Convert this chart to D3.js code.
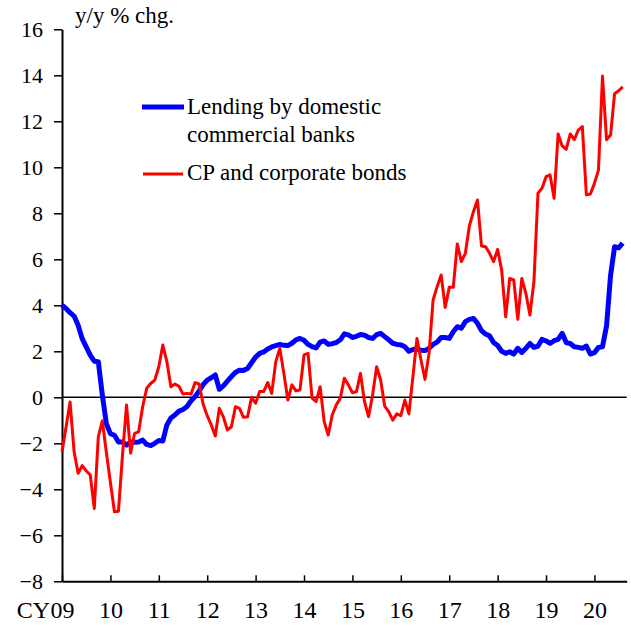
<!DOCTYPE html>
<html>
<head>
<meta charset="utf-8">
<script src="https://cdn.jsdelivr.net/npm/d3@7"></script>
<style>
  body { margin: 0; background: #fff; }
  svg text { font-family: "Liberation Serif", "Times New Roman", serif; fill: #000; }
</style>
</head>
<body>
<svg id="chart" width="631" height="626"></svg>
<script>
// monthly data, Jan 2009 onwards (y/y % chg.)
var lending = [
  4.0, 3.86, 3.68, 3.53, 3.13, 2.55, 2.19, 1.83, 1.57, 1.55,
  0.1, -1.15, -1.58, -1.65, -1.94, -1.94, -2.08, -1.94, -1.95, -1.94,
  -1.86, -2.05, -2.1, -2.0, -1.88, -1.9, -1.2, -0.9, -0.77, -0.6,
  -0.53, -0.4, -0.15, 0.03, 0.28, 0.55, 0.75, 0.85, 0.97, 0.35,
  0.5, 0.7, 0.9, 1.08, 1.18, 1.17, 1.25, 1.5, 1.75, 1.91,
  1.97, 2.1, 2.19, 2.25, 2.3, 2.26, 2.25, 2.35, 2.5, 2.56,
  2.48, 2.3, 2.2, 2.15, 2.4, 2.45, 2.3, 2.33, 2.38, 2.5,
  2.76, 2.71, 2.6, 2.65, 2.73, 2.7, 2.6, 2.56, 2.72, 2.78,
  2.64, 2.5, 2.35, 2.3, 2.28, 2.2, 2.0, 2.08, 2.1, 2.05,
  2.03, 2.13, 2.3, 2.4, 2.6, 2.6, 2.56, 2.85, 3.07, 3.0,
  3.29, 3.39, 3.43, 3.22, 2.9, 2.75, 2.67, 2.38, 2.25, 2.0,
  1.91, 1.98, 1.88, 2.13, 1.95, 2.13, 2.34, 2.17, 2.23, 2.52,
  2.45, 2.34, 2.46, 2.52, 2.78, 2.38, 2.34, 2.2, 2.17, 2.13,
  2.23, 1.88, 1.94, 2.17, 2.2, 3.1, 5.3, 6.55, 6.5, 6.7
];

var cpBonds = [
  -2.37, -1.3, -0.2, -2.37, -3.3, -2.97, -3.2, -3.37, -4.83, -1.72,
  -1.02, -2.4, -3.7, -4.98, -4.95, -2.5, -0.33, -2.43, -1.57, -1.5,
  -0.41, 0.39, 0.6, 0.75, 1.33, 2.27, 1.55, 0.46, 0.58, 0.48,
  0.14, 0.17, 0.14, 0.64, 0.58, -0.3, -0.8, -1.2, -1.68, -0.48,
  -0.85, -1.42, -1.28, -0.41, -0.48, -0.87, -0.85, 0.0, -0.26, 0.25,
  0.25, 0.64, 0.17, 1.55, 2.13, 1.04, -0.12, 0.54, 0.28, 0.32,
  1.84, 1.91, -0.04, -0.19, 0.46, -1.06, -1.64, -0.77, -0.33, -0.04,
  0.83, 0.54, 0.2, 0.25, 1.04, -0.19, -0.84, 0.1, 1.33, 0.75,
  -0.38, -0.62, -0.99, -0.72, -0.8, -0.12, -0.72, 0.9, 2.56, 1.62,
  0.78, 1.91, 4.23, 4.81, 5.32, 3.91, 4.78, 4.78, 6.67, 5.9,
  6.26, 7.46, 8.07, 8.58, 6.58, 6.55, 6.26, 5.9, 6.43, 5.53,
  3.5, 5.17, 5.1, 3.39, 5.17, 4.52, 3.58, 5.03, 8.87, 9.09,
  9.59, 9.67, 8.65, 11.45, 10.93, 10.78, 11.45, 11.2, 11.62, 11.77,
  8.8, 8.84, 9.3, 9.88, 13.97, 11.2, 11.4, 13.2, 13.33, 13.5
];

var yearLabels = ["09", "10", "11", "12", "13", "14", "15", "16", "17", "18", "19", "20"];
var yTicks = [-8, -6, -4, -2, 0, 2, 4, 6, 8, 10, 12, 14, 16];
var seriesNames = ["Lending by domestic|commercial banks", "CP and corporate bonds"];

var svg = d3.select("#chart");

// scales: x in months since Jan 2009
var x = d3.scaleLinear().domain([0, 140]).range([62, 626.7]);
var y = d3.scaleLinear().domain([-8, 16]).range([581.3, 29.3]);

// y axis
var yAxis = svg.append("g")
  .attr("transform", "translate(" + x(0) + ",0)")
  .call(d3.axisLeft(y).tickValues(yTicks).tickSize(8).tickSizeOuter(0).tickPadding(11));

yAxis.selectAll("text")
  .attr("font-size", "22px")
  .attr("font-family", "Liberation Serif");

// x axis, ticks pointing inward
var xAxis = svg.append("g")
  .attr("transform", "translate(0," + y(-8) + ")")
  .call(d3.axisBottom(x)
    .tickValues(yearLabels.map(function(d, i) { return i * 12; }))
    .tickSize(-6)
    .tickSizeOuter(0)
    .tickPadding(20)
    .tickFormat(function(d, i) { return yearLabels[i]; }));

xAxis.selectAll("text")
  .attr("font-size", "24px")
  .attr("font-family", "Liberation Serif");

svg.selectAll(".domain").attr("stroke-width", 2);
svg.selectAll(".tick line").attr("stroke-width", 1.5);

svg.append("text")
  .attr("x", 50)
  .attr("y", 618)
  .attr("text-anchor", "end")
  .attr("font-size", "24px")
  .text("CY");

svg.append("text")
  .attr("x", 75)
  .attr("y", 23)
  .attr("font-size", "23px")
  .text("y/y % chg.");

// zero line
svg.append("line")
  .attr("x1", x(0)).attr("x2", x(140))
  .attr("y1", y(0)).attr("y2", y(0))
  .attr("stroke", "#000")
  .attr("stroke-width", 1.5);

var line = d3.line()
  .x(function(d, i) { return x(i); })
  .y(function(d) { return y(d); });

svg.append("path")
  .datum(lending)
  .attr("fill", "none")
  .attr("stroke", "#0000ff")
  .attr("stroke-width", 5)
  .attr("stroke-linejoin", "round")
  .attr("d", line);

svg.append("path")
  .datum(cpBonds)
  .attr("fill", "none")
  .attr("stroke", "#ff0000")
  .attr("stroke-width", 3)
  .attr("stroke-linejoin", "round")
  .attr("d", line);

// legend
var legend = svg.append("g");

legend.append("line")
  .attr("x1", 142).attr("x2", 184)
  .attr("y1", 107).attr("y2", 107)
  .attr("stroke", "#0000ff")
  .attr("stroke-width", 5);

legend.append("line")
  .attr("x1", 143).attr("x2", 183)
  .attr("y1", 174).attr("y2", 174)
  .attr("stroke", "#ff0000")
  .attr("stroke-width", 3);

var name1 = seriesNames[0].split("|");
legend.append("text")
  .attr("x", 187).attr("y", 114)
  .attr("font-size", "23px")
  .text(name1[0]);
legend.append("text")
  .attr("x", 187).attr("y", 142)
  .attr("font-size", "23px")
  .text(name1[1]);
legend.append("text")
  .attr("x", 187).attr("y", 180)
  .attr("font-size", "23px")
  .text(seriesNames[1]);
</script>
</body>
</html>
